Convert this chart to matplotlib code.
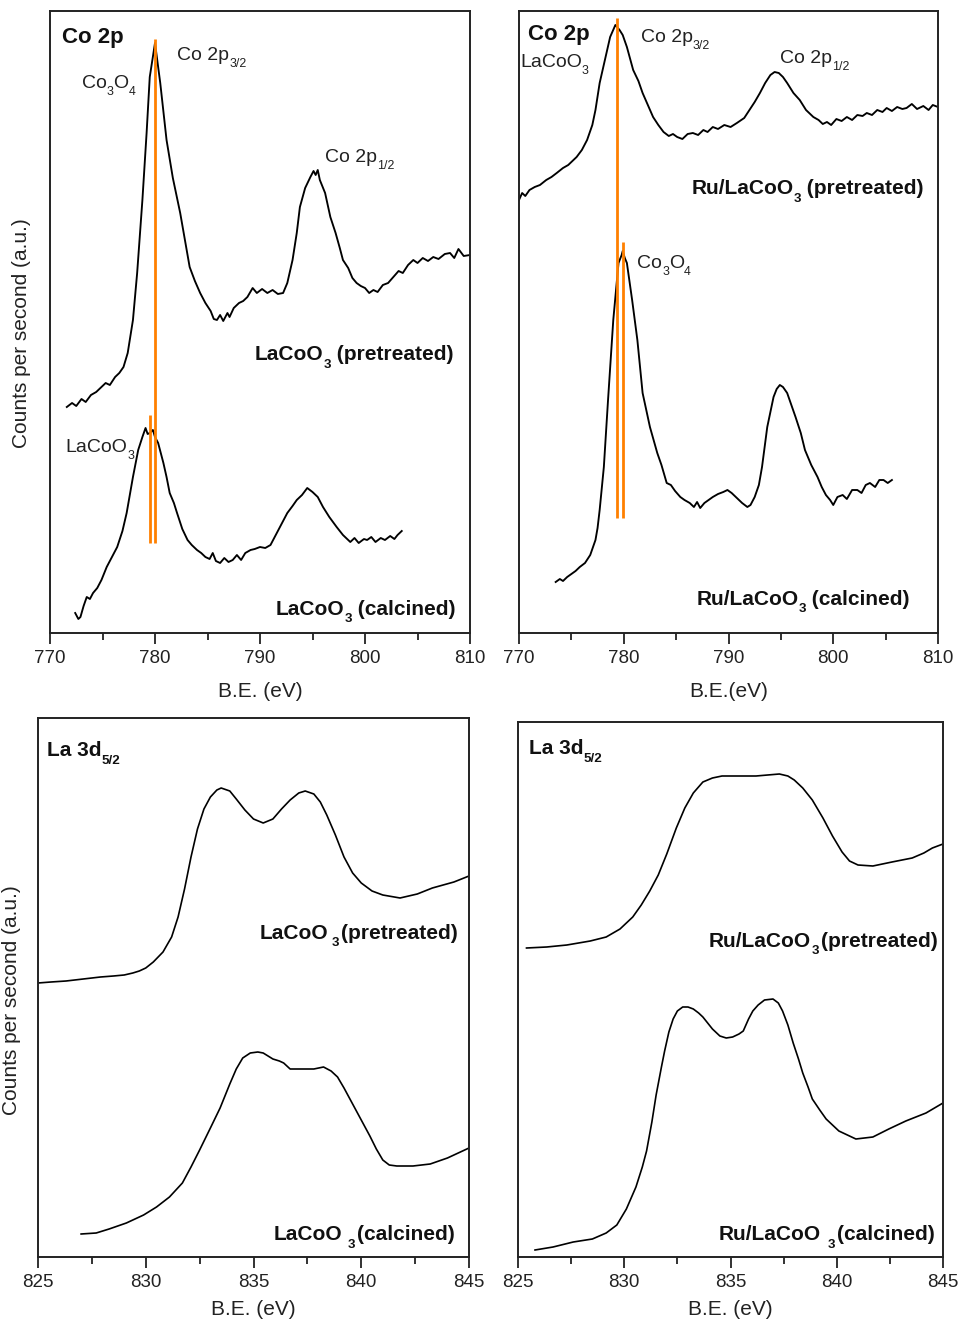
#!/usr/bin/env python3
"""
XPS spectra: Co 2p and La 3d5/2 regions for LaCoO3 and Ru/LaCoO3
(calcined vs. pretreated). Recreated as a 2x2 panel figure.
"""

import matplotlib
matplotlib.use("Agg")
import matplotlib.pyplot as plt
from matplotlib.ticker import MultipleLocator
from matplotlib.transforms import offset_copy

plt.rcParams["font.family"] = ["Liberation Sans", "DejaVu Sans"]

# =============================================================================
# DATA (binding energy in eV, intensity in arbitrary units)
# =============================================================================

# --- Co 2p, LaCoO3 pretreated ---
co_lc_pre_x = [771.6, 772.1, 772.5, 773.0, 773.4, 773.9, 774.4, 774.8, 775.3, 775.7,
               776.2, 776.6, 777.0, 777.4, 777.9, 778.3, 778.8, 779.2, 779.5, 780.0,
               780.5, 781.1, 781.7, 782.4, 782.9, 783.3, 783.8, 784.3, 784.8, 785.3,
               785.6, 785.9, 786.2, 786.5, 786.9, 787.1, 787.5, 788.0, 788.4, 788.8,
               789.3, 789.7, 790.2, 790.7, 791.2, 791.7, 792.2, 792.6, 793.1, 793.5,
               793.8, 794.3, 794.8, 795.1, 795.3, 795.5, 795.7, 796.2, 796.7, 797.2,
               797.6, 797.9, 798.4, 798.8, 799.2, 799.6, 800.0, 800.4, 800.8, 801.2,
               801.7, 802.2, 802.7, 803.2, 803.6, 804.1, 804.6, 805.0, 805.5, 806.0,
               806.5, 807.0, 807.6, 808.1, 808.5, 808.9, 809.4, 810.0]
co_lc_pre_y = [226, 230, 227, 234, 231, 238, 241, 245, 250, 248,
               256, 260, 266, 280, 313, 360, 433, 500, 556, 590,
               550, 493, 455, 420, 390, 366, 352, 340, 330, 322,
               314, 313, 318, 312, 320, 316, 325, 330, 332, 336,
               345, 340, 344, 340, 343, 339, 340, 350, 373, 400,
               426, 445, 456, 462, 458, 463, 453, 440, 416, 400,
               385, 373, 365, 355, 350, 347, 345, 340, 343, 341,
               348, 350, 356, 362, 360, 368, 373, 370, 375, 372,
               376, 374, 379, 380, 375, 384, 377, 378]

# --- Co 2p, LaCoO3 calcined ---
co_lc_cal_x = [772.4, 772.7, 772.9, 773.2, 773.5, 773.8, 774.1, 774.5, 774.9, 775.4,
               775.9, 776.4, 776.9, 777.3, 777.6, 777.9, 778.4, 778.8, 779.1, 779.3,
               779.5, 779.8, 780.0, 780.3, 780.8, 781.1, 781.4, 781.8, 782.1, 782.6,
               783.1, 783.5, 784.0, 784.4, 784.8, 785.2, 785.5, 785.8, 786.2, 786.6,
               787.0, 787.4, 787.8, 788.2, 788.6, 789.1, 789.5, 790.0, 790.5, 791.0,
               791.3, 791.6, 792.1, 792.6, 793.1, 793.5, 794.0, 794.5, 795.0, 795.5,
               796.0, 796.6, 797.3, 797.9, 798.6, 799.0, 799.4, 799.9, 800.2, 800.6,
               801.0, 801.5, 801.9, 802.4, 802.8, 803.1, 803.5]
co_lc_cal_y = [20, 14, 16, 27, 36, 34, 40, 45, 53, 66,
               76, 86, 102, 120, 138, 156, 183, 196, 205, 199,
               200, 203, 196, 190, 170, 156, 140, 130, 120, 104,
               93, 88, 83, 80, 76, 74, 80, 72, 70, 75,
               71, 73, 78, 73, 80, 83, 84, 86, 85, 88,
               94, 100, 110, 120, 127, 133, 138, 145, 141, 136,
               126, 116, 106, 98, 91, 95, 90, 94, 93, 96,
               91, 95, 93, 97, 94, 98, 102]

# reference lines (peak positions) in the LaCoO3 Co 2p panel
co_lc_mark_x = [780.0, 779.5]
co_lc_mark_lo = [90, 90]
co_lc_mark_hi = [594, 218]

# --- Co 2p, Ru/LaCoO3 pretreated ---
co_ru_pre_x = [770.0, 770.3, 770.6, 771.0, 771.5, 772.0, 772.6, 773.1, 773.6, 774.2,
               774.7, 775.1, 775.5, 776.0, 776.5, 777.0, 777.3, 777.7, 778.2, 778.7,
               779.2, 779.6, 779.9, 780.3, 780.9, 781.4, 781.8, 782.3, 782.8, 783.3,
               783.8, 784.3, 784.7, 785.1, 785.6, 786.1, 786.6, 787.1, 787.6, 788.0,
               788.5, 789.0, 789.6, 790.2, 790.8, 791.5, 792.0, 792.5, 793.0, 793.5,
               794.0, 794.4, 794.8, 795.2, 795.6, 796.2, 796.8, 797.4, 798.1, 798.6,
               799.0, 799.4, 799.8, 800.3, 800.8, 801.3, 801.8, 802.3, 802.8, 803.2,
               803.7, 804.2, 804.7, 805.1, 805.6, 806.1, 806.6, 807.0, 807.5, 808.0,
               808.6, 809.1, 809.5, 810.0]
co_ru_pre_y = [433, 440, 437, 443, 446, 448, 453, 456, 460, 465,
               468, 472, 476, 483, 493, 508, 523, 550, 573, 596,
               608, 603, 598, 586, 563, 552, 540, 528, 516, 508,
               501, 497, 499, 496, 494, 499, 500, 498, 503, 501,
               506, 504, 508, 506, 510, 515, 523, 531, 540, 550,
               558, 561, 560, 556, 550, 540, 533, 523, 516, 513,
               509, 511, 508, 514, 512, 516, 513, 518, 517, 520,
               518, 523, 521, 525, 522, 526, 524, 525, 529, 524,
               527, 523, 528, 526]

# --- Co 2p, Ru/LaCoO3 calcined ---
co_ru_cal_x = [773.5, 773.9, 774.2, 774.6, 775.0, 775.4, 775.8, 776.3, 776.8, 777.0,
               777.3, 777.5, 777.7, 778.1, 778.5, 779.0, 779.5, 779.8, 779.9, 780.1,
               780.3, 780.8, 781.3, 781.8, 782.5, 783.2, 783.6, 784.1, 784.5, 784.9,
               785.4, 785.8, 786.3, 786.7, 787.0, 787.3, 787.7, 788.1, 788.5, 789.0,
               789.5, 789.9, 790.3, 790.8, 791.3, 791.8, 792.1, 792.5, 792.9, 793.2,
               793.7, 794.3, 794.6, 794.9, 795.2, 795.6, 796.0, 796.4, 796.9, 797.3,
               797.9, 798.5, 798.9, 799.3, 799.7, 800.0, 800.4, 800.9, 801.3, 801.8,
               802.3, 802.7, 803.1, 803.5, 804.0, 804.4, 804.8, 805.2, 805.6]
co_ru_cal_y = [51, 54, 52, 56, 59, 62, 66, 70, 78, 84,
               93, 105, 123, 166, 233, 313, 370, 378, 382, 375,
               370, 333, 293, 240, 206, 180, 168, 150, 148, 142,
               136, 133, 130, 126, 131, 125, 130, 133, 136, 139,
               141, 143, 140, 135, 130, 126, 128, 136, 148, 166,
               206, 236, 244, 248, 246, 240, 228, 216, 200, 183,
               168, 156, 146, 138, 133, 128, 136, 138, 134, 143,
               143, 140, 148, 150, 146, 153, 153, 150, 153]

co_ru_mark_x = [779.36, 779.93]
co_ru_mark_lo = [115, 115]
co_ru_mark_hi = [615, 391]

# --- La 3d5/2, LaCoO3 pretreated ---
la_lc_pre_x = [825.0, 825.6, 826.3, 827.1, 827.9, 828.5, 829.0, 829.4, 829.7, 830.0,
               830.35, 830.8, 831.2, 831.5, 831.8, 832.1, 832.4, 832.7, 833.0, 833.3,
               833.5, 833.9, 834.2, 834.6, 835.0, 835.45, 835.9, 836.3, 836.7, 837.1,
               837.4, 837.8, 838.1, 838.4, 838.8, 839.2, 839.6, 840.0, 840.5, 841.0,
               841.8, 842.6, 843.3, 844.3, 845.0]
la_lc_pre_y = [274, 275, 276, 278, 280, 281, 282, 284, 286, 289,
               295, 305, 320, 340, 368, 400, 428, 448, 460, 467,
               469, 466, 458, 447, 438, 434, 438, 448, 457, 464,
               466, 463, 455, 442, 422, 400, 384, 374, 366, 362,
               359, 363, 369, 375, 381]

# --- La 3d5/2, LaCoO3 calcined ---
la_lc_cal_x = [827.0, 827.7, 828.3, 829.1, 829.9, 830.5, 831.1, 831.7, 832.1, 832.5,
               833.0, 833.45, 833.9, 834.2, 834.5, 834.85, 835.2, 835.45, 835.9, 836.2,
               836.4, 836.7, 837.2, 837.8, 838.25, 838.6, 838.9, 839.2, 839.5, 839.8,
               840.1, 840.4, 840.7, 841.0, 841.3, 841.65, 842.4, 843.2, 844.0, 845.0]
la_lc_cal_y = [23, 24, 28, 34, 42, 50, 60, 74, 90, 107,
               129, 149, 173, 188, 199, 204, 205, 204, 198, 196,
               194, 188, 188, 188, 190, 186, 180, 169, 157, 145,
               133, 121, 108, 97, 92, 91, 91, 93, 99, 109]

# --- La 3d5/2, Ru/LaCoO3 pretreated ---
la_ru_pre_x = [825.4, 826.35, 827.3, 828.4, 829.15, 829.8, 830.4, 830.8, 831.2, 831.6,
               832.0, 832.45, 832.85, 833.25, 833.7, 834.15, 834.6, 835.1, 836.2, 837.3,
               837.7, 838.0, 838.4, 838.85, 839.35, 839.8, 840.25, 840.6, 841.0, 841.7,
               842.6, 843.55, 844.1, 844.5, 845.0]
la_ru_pre_y = [309, 310, 312, 316, 320, 328, 340, 352, 366, 382,
               403, 429, 449, 464, 475, 479, 481, 481, 481, 483,
               481, 477, 469, 457, 439, 421, 405, 396, 392, 391,
               395, 399, 404, 409, 413]

# --- La 3d5/2, Ru/LaCoO3 calcined ---
la_ru_cal_x = [825.8, 826.65, 827.6, 828.5, 829.15, 829.65, 830.1, 830.55, 830.85, 831.05,
               831.3, 831.5, 831.75, 831.9, 832.1, 832.3, 832.5, 832.75, 833.0, 833.25,
               833.5, 833.7, 834.15, 834.5, 834.8, 835.1, 835.4, 835.6, 835.85, 836.05,
               836.3, 836.6, 837.0, 837.25, 837.45, 837.7, 837.95, 838.2, 838.4, 838.65,
               838.85, 839.2, 839.5, 840.1, 840.9, 841.7, 842.45, 843.25, 844.2, 845.0]
la_ru_cal_y = [7, 10, 15, 18, 24, 32, 48, 70, 90, 106,
               135, 162, 190, 206, 225, 238, 246, 250, 250, 248,
               244, 240, 228, 221, 219, 220, 223, 226, 238, 246,
               252, 257, 258, 254, 246, 232, 214, 198, 184, 170,
               158, 147, 138, 126, 118, 120, 128, 136, 144, 154]

XLABEL = "B.E. (eV)"
YLABEL = "Counts per second (a.u.)"
ORANGE = "#FF8000"
OUTPUT = "out.png"


# =============================================================================
# HELPERS
# =============================================================================


def style_axes(ax, xlim, ylim, major, minor):
    ax.set_xlim(*xlim)
    ax.set_ylim(*ylim)
    ax.xaxis.set_major_locator(MultipleLocator(major))
    ax.xaxis.set_minor_locator(MultipleLocator(minor))
    ax.set_yticks([])
    ax.tick_params(axis="x", which="major", direction="out", length=8, width=1.3,
                   labelsize=13.5, pad=4, colors="#222222", labelcolor="#222222")
    ax.tick_params(axis="x", which="minor", direction="out", length=5, width=1.3,
                   colors="#222222")
    for sp in ax.spines.values():
        sp.set_linewidth(1.4)
        sp.set_color("#222222")


def label(ax, x, y, parts, size=14, weight="normal", ha="left", color="#222222"):
    """Label from (text, is_subscript) pieces; a bare number is an extra gap in px."""
    fig = ax.figure
    renderer = fig.canvas.get_renderer()
    em = size * fig.dpi / 72
    pieces = []
    for p in parts:
        if isinstance(p, (int, float)):
            pieces.append((None, False, float(p)))
            continue
        s, sub = p
        fs = size * 0.64 if sub else size
        t = ax.text(x, y, s, fontsize=fs, fontweight=weight, color=color,
                    ha="left", va="baseline")
        pieces.append((t, sub, t.get_window_extent(renderer).width))
    total = sum(w for _, _, w in pieces)
    off = -total if ha == "right" else 0.0
    for t, sub, w in pieces:
        if t is not None:
            dy = -0.36 * em if sub else 0.0
            t.set_transform(offset_copy(ax.transData, fig, x=off, y=dy, units="dots"))
        off += w


def bold(ax, x, y, parts, ha="right", size=15):
    label(ax, x, y, parts, size=size, weight="bold", ha=ha, color="#111111")


# =============================================================================
# FIGURE
# =============================================================================


def main():
    W, H = 962, 1320
    fig = plt.figure(figsize=(W / 100, H / 100), dpi=100)

    def box(left, top, right, bottom):
        return [left / W, 1 - bottom / H, (right - left) / W, (bottom - top) / H]

    ax1 = fig.add_axes(box(50, 11, 470, 633))
    ax2 = fig.add_axes(box(519, 11, 938, 633))
    ax3 = fig.add_axes(box(38, 718, 469, 1257))
    ax4 = fig.add_axes(box(518, 722, 943, 1257))

    lw = 1.35

    # ---- Co 2p, LaCoO3 ----
    ax1.plot(co_lc_pre_x, co_lc_pre_y, color="black", lw=lw)
    ax1.plot(co_lc_cal_x, co_lc_cal_y, color="black", lw=lw)
    ax1.vlines(co_lc_mark_x, co_lc_mark_lo, co_lc_mark_hi, color=ORANGE, lw=2)
    style_axes(ax1, (770, 810), (0, 622), 10, 5)
    ax1.set_xlabel(XLABEL, fontsize=15, labelpad=11, color="#222222")
    bold(ax1, 771.1, 590, [("Co 2p", 0)], ha="left", size=16)
    label(ax1, 782.1, 573, [("Co 2p", 0), ("3/2", 1)])
    label(ax1, 773.0, 545, [("Co", 0), ("3", 1), ("O", 0), ("4", 1)])
    label(ax1, 796.2, 471, [("Co 2p", 0), ("1/2", 1)])
    bold(ax1, 808.4, 273, [("LaCoO", 0), ("3", 1), (" (pretreated)", 0)])
    label(ax1, 771.5, 181, [("LaCoO", 0), ("3", 1)])
    bold(ax1, 808.6, 18, [("LaCoO", 0), ("3", 1), (" (calcined)", 0)])

    # ---- Co 2p, Ru/LaCoO3 ----
    ax2.plot(co_ru_pre_x, co_ru_pre_y, color="black", lw=lw)
    ax2.plot(co_ru_cal_x, co_ru_cal_y, color="black", lw=lw)
    ax2.vlines(co_ru_mark_x, co_ru_mark_lo, co_ru_mark_hi, color=ORANGE, lw=2)
    style_axes(ax2, (770, 810), (0, 622), 10, 5)
    ax2.set_xlabel("B.E.(eV)", fontsize=15, labelpad=11, color="#222222")
    bold(ax2, 770.9, 593, [("Co 2p", 0)], ha="left", size=16)
    label(ax2, 770.1, 566, [("LaCoO", 0), ("3", 1)])
    label(ax2, 781.6, 591, [("Co 2p", 0), ("3/2", 1)])
    label(ax2, 794.9, 570, [("Co 2p", 0), ("1/2", 1)])
    bold(ax2, 808.6, 439, [("Ru/LaCoO", 0), ("3", 1), (" (pretreated)", 0)])
    label(ax2, 781.3, 365, [("Co", 0), ("3", 1), ("O", 0), ("4", 1)])
    bold(ax2, 807.3, 28, [("Ru/LaCoO", 0), ("3", 1), (" (calcined)", 0)])

    # ---- La 3d5/2, LaCoO3 ----
    ax3.plot(la_lc_pre_x, la_lc_pre_y, color="black", lw=1.2)
    ax3.plot(la_lc_cal_x, la_lc_cal_y, color="black", lw=1.2)
    style_axes(ax3, (825, 845), (0, 539), 5, 2.5)
    ax3.set_xlabel(XLABEL, fontsize=15, labelpad=7, color="#222222")
    bold(ax3, 825.4, 501, [("La 3d", 0), ("5/2", 1)], ha="left")
    bold(ax3, 844.5, 318, [("LaCoO", 0), 4, ("3", 1), 2, ("(pretreated)", 0)])
    bold(ax3, 844.35, 17, [("LaCoO", 0), 5, ("3", 1), 2, ("(calcined)", 0)])

    # ---- La 3d5/2, Ru/LaCoO3 ----
    ax4.plot(la_ru_pre_x, la_ru_pre_y, color="black", lw=1.2)
    ax4.plot(la_ru_cal_x, la_ru_cal_y, color="black", lw=1.2)
    style_axes(ax4, (825, 845), (0, 535), 5, 2.5)
    ax4.set_xlabel(XLABEL, fontsize=15, labelpad=7, color="#222222")
    bold(ax4, 825.5, 503, [("La 3d", 0), ("5/2", 1)], ha="left")
    bold(ax4, 844.75, 310, [("Ru/LaCoO", 0), 1, ("3", 1), 2, ("(pretreated)", 0)])
    bold(ax4, 844.6, 17, [("Ru/LaCoO", 0), 6, ("3", 1), 2, ("(calcined)", 0)])

    # y labels (shared per row)
    fig.text(22 / W, 1 - 333 / H, YLABEL, rotation=90, ha="center", va="center",
             fontsize=15, color="#222222")
    fig.text(12 / W, 1 - 1000 / H, YLABEL, rotation=90, ha="center", va="center",
             fontsize=15, color="#222222")

    fig.savefig(OUTPUT, dpi=100)
    print(f"Saved {OUTPUT}")


if __name__ == "__main__":
    main()
